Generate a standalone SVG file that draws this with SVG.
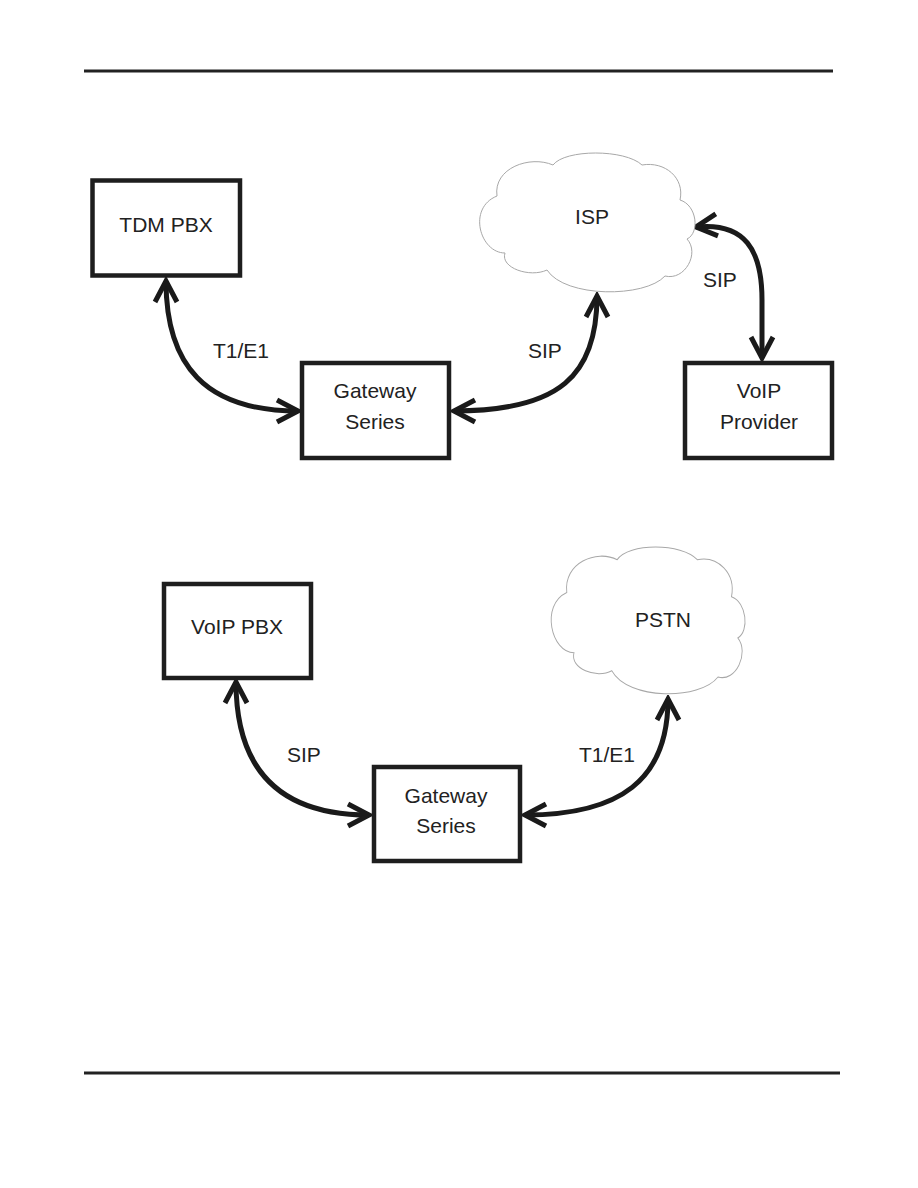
<svg xmlns="http://www.w3.org/2000/svg" width="918" height="1188" viewBox="0 0 918 1188">
<style>
.box{fill:#fff;stroke:#1e1e1e;stroke-width:4.5}
.cloud{fill:#fff;stroke:#a8a8a8;stroke-width:1}
.lbl{font-family:"Liberation Sans",Arial,sans-serif;font-size:21px;fill:#222}
.mid{text-anchor:middle}
.conn{fill:none;stroke:#1a1a1a;stroke-width:5;marker-start:url(#ah);marker-end:url(#ah)}
.rule{stroke:#222;stroke-width:3}
</style>
<defs>
<marker id="ah" viewBox="-26 -15 30 30" markerWidth="30" markerHeight="30" refX="0" refY="0" orient="auto-start-reverse" markerUnits="userSpaceOnUse">
<path d="M-21,-11 L0,0 L-21,11" fill="none" stroke="#1a1a1a" stroke-width="5"/>
</marker>
<path id="cloudShape" d="M22,43 C18,15 55,2 78,12 C90,-4 150,-4 167,12 C190,8 210,25 205,47 C222,52 225,80 212,86 C225,100 210,128 190,123 C170,145 90,145 72,117 C55,125 25,115 30,100 C5,100 -8,55 22,43 Z"/>
</defs>
<rect width="918" height="1188" fill="#fff"/>
<line class="rule" x1="84" y1="71" x2="833" y2="71"/>
<line class="rule" x1="84" y1="1073" x2="840" y2="1073"/>

<g id="connectors">
<path class="conn" d="M166,281 C166,365 205,411 298,411"/>
<path class="conn" d="M454,411 C560,411 597,375 597,296"/>
<path class="conn" d="M696,227 C745,222 762,250 762,300 L762,358"/>
<path class="conn" d="M236,682 C236,770 280,815 369,815"/>
<path class="conn" d="M525,815 C620,815 668,780 668,699"/>
<text class="lbl" x="213" y="358">T1/E1</text>
<text class="lbl" x="528" y="358">SIP</text>
<text class="lbl" x="703" y="287">SIP</text>
<text class="lbl" x="287" y="762">SIP</text>
<text class="lbl" x="579" y="762">T1/E1</text>
</g>

<g id="tdm-pbx">
<rect class="box" x="92.5" y="180.5" width="147.5" height="95"/>
<text class="lbl mid" x="166" y="232">TDM PBX</text>
</g>
<g id="gateway-1">
<rect class="box" x="302" y="363" width="147" height="95"/>
<text class="lbl mid" x="375" y="398">Gateway</text>
<text class="lbl mid" x="375" y="429">Series</text>
</g>
<g id="isp">
<use href="#cloudShape" class="cloud" transform="translate(475,153)"/>
<text class="lbl mid" x="592" y="224">ISP</text>
</g>
<g id="voip-provider">
<rect class="box" x="685" y="363" width="147" height="95"/>
<text class="lbl mid" x="759" y="398">VoIP</text>
<text class="lbl mid" x="759" y="429">Provider</text>
</g>
<g id="voip-pbx">
<rect class="box" x="164" y="584" width="147" height="94"/>
<text class="lbl mid" x="237" y="634">VoIP PBX</text>
</g>
<g id="gateway-2">
<rect class="box" x="374" y="767" width="146" height="94"/>
<text class="lbl mid" x="446" y="803">Gateway</text>
<text class="lbl mid" x="446" y="833">Series</text>
</g>
<g id="pstn">
<use href="#cloudShape" class="cloud" transform="translate(547,547) scale(0.9,1.057)"/>
<text class="lbl mid" x="663" y="627">PSTN</text>
</g>
</svg>
